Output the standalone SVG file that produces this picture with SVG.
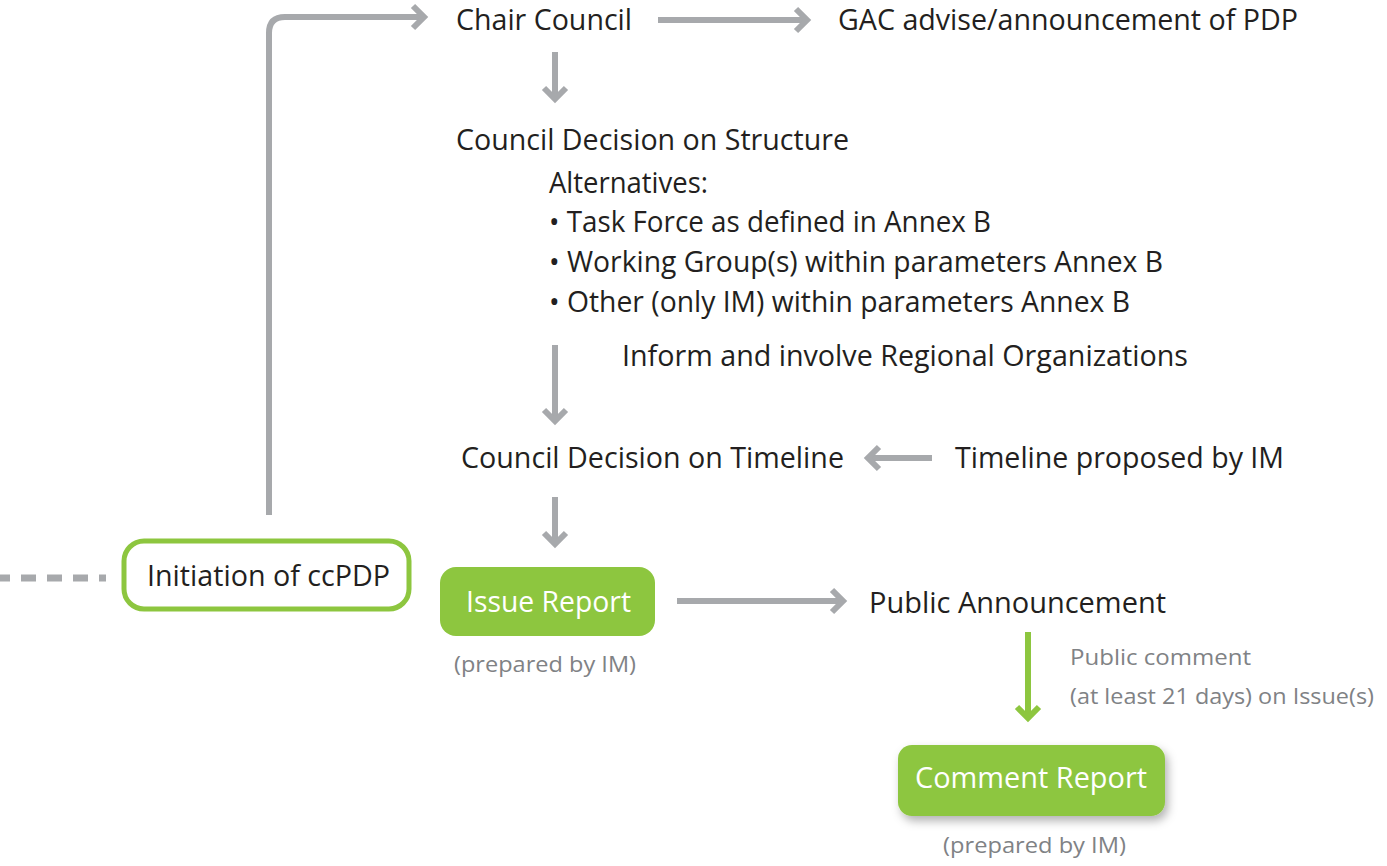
<svg xmlns="http://www.w3.org/2000/svg" width="1387" height="866" viewBox="0 0 1387 866">
<defs>
<style>
.t{font-family:"Open Sans","Liberation Sans",sans-serif;font-size:28.5px;fill:#231f20}
.s{font-family:"Open Sans","Liberation Sans",sans-serif;font-size:22px;fill:#808285}
.w{font-family:"Open Sans","Liberation Sans",sans-serif;font-size:28.5px;fill:#ffffff}
.c{fill:none;stroke:#a7a9ac;stroke-width:6}
.cg{fill:none;stroke:#8dc63f;stroke-width:6}
</style>
<filter id="sh" x="-20%" y="-30%" width="140%" height="170%">
<feDropShadow dx="3" dy="5" stdDeviation="5" flood-color="#000" flood-opacity="0.3"/>
</filter>
</defs>
<rect width="1387" height="866" fill="#fff"/>
<g id="connectors">
<path class="c" d="M269 515 V33 Q269 17 285 17 H424"/>
<polyline class="c" points="413,6 424,17 413,28"/>
<path class="c" d="M658 20 H806"/>
<polyline class="c" points="796,9 807,20 796,31"/>
<path class="c" d="M555 52 V99"/>
<polyline class="c" points="544,88 555,99 566,88"/>
<path class="c" d="M555 345 V421"/>
<polyline class="c" points="544,410 555,421 566,410"/>
<path class="c" d="M932 458 H868"/>
<polyline class="c" points="879,447 868,458 879,469"/>
<path class="c" d="M555 497 V544"/>
<polyline class="c" points="544,533 555,544 566,533"/>
<path class="c" d="M677 601 H843"/>
<polyline class="c" points="832,590 843,601 832,612"/>
<path class="cg" d="M1028 632 V718"/>
<polyline class="cg" points="1017,707 1028,718 1039,707"/>
<path d="M0 578 H106" fill="none" stroke="#a7a9ac" stroke-width="7" stroke-dasharray="15 11" stroke-dashoffset="5"/>
</g>
<g id="chair"><text class="t" x="456" y="30" textLength="176" lengthAdjust="spacingAndGlyphs">Chair Council</text></g>
<g id="gac"><text class="t" x="838" y="30" textLength="460" lengthAdjust="spacingAndGlyphs">GAC advise/announcement of PDP</text></g>
<g id="structure">
<text class="t" x="456" y="150" textLength="393" lengthAdjust="spacingAndGlyphs">Council Decision on Structure</text>
<text class="t" x="549" y="193" textLength="159" lengthAdjust="spacingAndGlyphs">Alternatives:</text>
<text class="t" x="549" y="232" textLength="442" lengthAdjust="spacingAndGlyphs">• Task Force as defined in Annex B</text>
<text class="t" x="549" y="272" textLength="614" lengthAdjust="spacingAndGlyphs">• Working Group(s) within parameters Annex B</text>
<text class="t" x="549" y="312" textLength="581" lengthAdjust="spacingAndGlyphs">• Other (only IM) within parameters Annex B</text>
</g>
<g id="inform"><text class="t" x="622" y="366" textLength="566" lengthAdjust="spacingAndGlyphs">Inform and involve Regional Organizations</text></g>
<g id="timeline"><text class="t" x="461" y="468" textLength="383" lengthAdjust="spacingAndGlyphs">Council Decision on Timeline</text></g>
<g id="proposed"><text class="t" x="955" y="468" textLength="329" lengthAdjust="spacingAndGlyphs">Timeline proposed by IM</text></g>
<g id="initiation">
<rect x="124" y="541" width="285" height="68" rx="20" fill="#fff" stroke="#8dc63f" stroke-width="5"/>
<text class="t" x="147" y="586" textLength="243" lengthAdjust="spacingAndGlyphs">Initiation of ccPDP</text>
</g>
<g id="issue">
<rect x="440" y="567" width="215" height="69" rx="16" fill="#8dc63f"/>
<text class="w" x="466" y="612" textLength="165" lengthAdjust="spacingAndGlyphs">Issue Report</text>
<text class="s" x="454" y="672" textLength="182" lengthAdjust="spacingAndGlyphs">(prepared by IM)</text>
</g>
<g id="public"><text class="t" x="869" y="613" textLength="297" lengthAdjust="spacingAndGlyphs">Public Announcement</text></g>
<g id="comment-label">
<text class="s" x="1070" y="665" textLength="181" lengthAdjust="spacingAndGlyphs">Public comment</text>
<text class="s" x="1070" y="704" textLength="304" lengthAdjust="spacingAndGlyphs">(at least 21 days) on Issue(s)</text>
</g>
<g id="comment">
<rect x="898" y="745" width="267" height="71" rx="14" fill="#8dc63f" filter="url(#sh)"/>
<text class="w" x="915" y="788" textLength="232" lengthAdjust="spacingAndGlyphs">Comment Report</text>
<text class="s" x="943" y="853" textLength="183" lengthAdjust="spacingAndGlyphs">(prepared by IM)</text>
</g>
</svg>
